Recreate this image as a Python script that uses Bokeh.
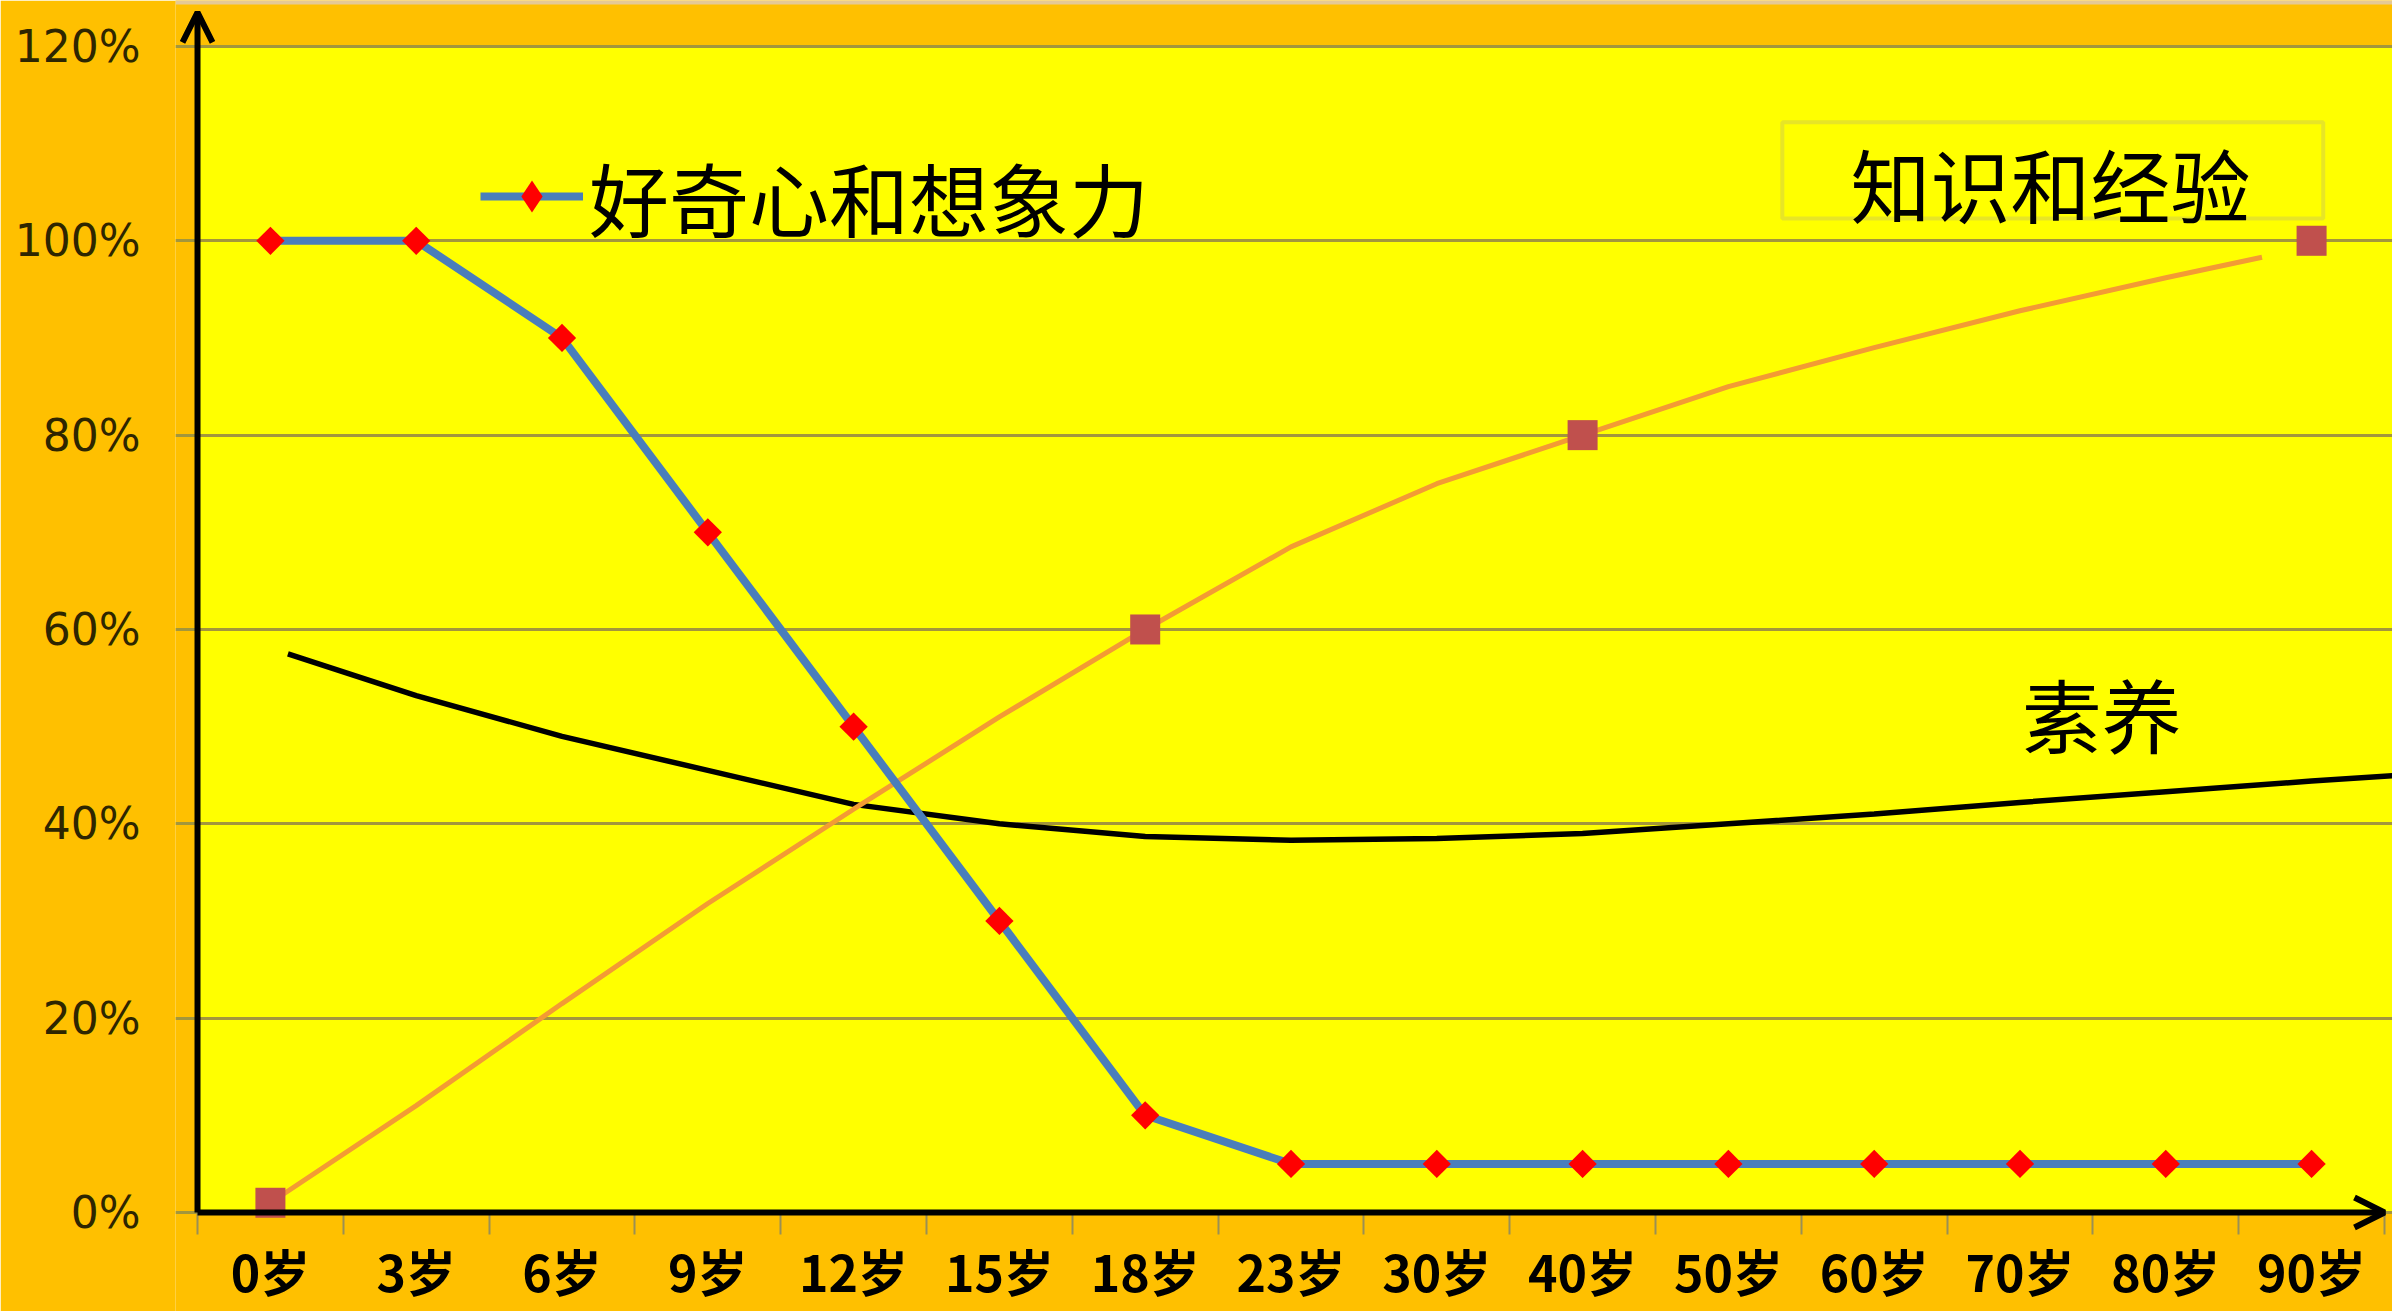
from math import pi
from bokeh.plotting import figure
from bokeh.models import (Range1d, FixedTicker, BoxAnnotation, Arrow, OpenHead,
                          Label, Legend, LegendItem)
from bokeh.embed import file_html
from bokeh.resources import INLINE

# ---------------- data ----------------
ages = ["0岁", "3岁", "6岁", "9岁", "12岁", "15岁", "18岁", "23岁", "30岁",
        "40岁", "50岁", "60岁", "70岁", "80岁", "90岁"]
age_pos = list(range(len(ages)))

# 好奇心和想象力 (%)
curiosity = [100, 100, 90, 70, 50, 30, 10, 5, 5, 5, 5, 5, 5, 5, 5]

# 知识和经验 : smooth trend line (%) and its marked points (%)
knowledge_x = [0, 1, 2, 3, 4, 5, 6, 7, 8, 9, 10, 11, 12, 13, 13.66]
knowledge_line = [1, 11, 21.5, 31.8, 41.5, 51, 60, 68.5, 75, 80, 85, 89, 92.8, 96.2, 98.3]
knowledge_mark_x = [0, 6, 9, 14]
knowledge_mark = [1, 60, 80, 100]

# 素养 (%)
literacy_x = [0.12, 1, 2, 3, 4, 5, 6, 7, 8, 9, 10, 11, 12, 13, 14, 14.6]
literacy = [57.5, 53.2, 49, 45.5, 42, 40, 38.7, 38.3, 38.5, 39, 40, 41, 42.2, 43.3, 44.4, 45]

y_ticks = [0, 20, 40, 60, 80, 100, 120]
y_tick_labels = ["0%", "20%", "40%", "60%", "80%", "100%", "120%"]

legend_label = "好奇心和想象力"
knowledge_label = "知识和经验"
literacy_label = "素养"

# ---------------- figure ----------------
ORANGE = "#FFC000"
YELLOW = "#FFFF00"
GRID = "#A3963C"
CJK = "Noto Sans CJK SC"

p = figure(width=2392, height=1311, output_backend="svg", toolbar_location=None,
           x_range=Range1d(-0.651, 14.555), y_range=Range1d(-10.19, 124.73),
           min_border_left=175, min_border_right=0, min_border_top=0,
           min_border_bottom=0)
p.background_fill_color = ORANGE
p.border_fill_color = ORANGE
p.outline_line_color = None

plot_area = BoxAnnotation(left=-0.5, right=14.555, bottom=0, top=120,
                          fill_color=YELLOW, fill_alpha=1, line_color=None,
                          level="image")
p.add_layout(plot_area)
top_strip = BoxAnnotation(bottom=124.32, fill_color="#E5C995", fill_alpha=1,
                          line_color=None, level="image")
p.add_layout(top_strip)

# grid (its left overhang doubles as the small y ticks)
p.xgrid.visible = False
p.ygrid.ticker = FixedTicker(ticks=y_ticks)
p.ygrid.grid_line_color = GRID
p.ygrid.grid_line_width = 3

# y axis (line drawn as an arrow)
p.yaxis.ticker = FixedTicker(ticks=y_ticks)
p.yaxis.major_label_overrides = dict(zip(y_ticks, y_tick_labels))
p.yaxis.axis_line_color = None
p.yaxis.major_tick_in = 0
p.yaxis.major_tick_out = 0
p.yaxis.major_tick_line_color = None
p.yaxis.minor_tick_line_color = None
p.yaxis.major_label_standoff = 35
p.yaxis.major_label_text_font = "DejaVu Sans"
p.yaxis.major_label_text_font_size = "44px"
p.yaxis.major_label_text_color = "#2E2600"

# x axis fixed at 0%
p.xaxis.fixed_location = 0
p.xaxis.ticker = FixedTicker(ticks=age_pos, minor_ticks=[i - 0.5 for i in range(len(ages) + 1)])
p.xaxis.major_label_overrides = dict(zip(age_pos, ages))
p.xaxis.axis_line_color = None
p.xaxis.major_tick_line_color = None
p.xaxis.major_tick_in = 0
p.xaxis.major_tick_out = 0
p.xaxis.minor_tick_in = 0
p.xaxis.minor_tick_out = 22
p.xaxis.minor_tick_line_color = "#9A8F55"
p.xaxis.minor_tick_line_width = 2
p.xaxis.major_label_standoff = 0
p.xaxis.major_label_text_font = CJK
p.xaxis.major_label_text_font_style = "bold"
p.xaxis.major_label_text_font_size = "50px"
p.xaxis.major_label_text_color = "black"

# axis lines with arrow heads
p.add_layout(Arrow(end=OpenHead(size=30, line_width=6, line_color="black"),
                   x_start=-0.5, y_start=0, x_end=-0.5, y_end=123.5,
                   line_width=6, line_color="black"))
p.add_layout(Arrow(end=OpenHead(size=30, line_width=6, line_color="black"),
                   x_start=-0.5, y_start=0, x_end=14.5, y_end=0,
                   line_width=6, line_color="black"))

# series
p.line(literacy_x, literacy, line_color="black", line_width=5.5)
p.line(knowledge_x, knowledge_line, line_color="#F39B34", line_width=5)
p.scatter(knowledge_mark_x, knowledge_mark, marker="square", size=30,
          fill_color="#C0504D", line_color=None)
blue = p.line(age_pos, curiosity, line_color="#4A7EBB", line_width=8)
# diamond (used for the legend swatch), fully covered by the rotated squares
blue_d = p.scatter(age_pos, curiosity, marker="diamond", size=27,
                   fill_color="#FF0000", line_color=None)
p.scatter(age_pos, curiosity, marker="square", angle=pi / 4, size=20,
          fill_color="#FF0000", line_color=None)

legend = Legend(items=[LegendItem(label=legend_label, renderers=[blue, blue_d])],
                location=(305, 1057), padding=0, margin=0, spacing=0,
                glyph_width=103, glyph_height=80, label_height=60,
                label_standoff=6, label_text_font=CJK,
                label_text_font_size="80px", label_text_color="black",
                background_fill_alpha=0, border_line_color=None)
p.add_layout(legend)

# 知识和经验 box + text
p.add_layout(BoxAnnotation(left=10.37, right=14.08, bottom=102.3, top=112.2,
                           fill_alpha=0, line_color="#B0A880", line_width=4))
p.add_layout(Label(x=12.21, y=106.0, text=knowledge_label, text_align="center",
                   text_baseline="middle", text_font=CJK,
                   text_font_size="80px", text_color="black"))

# 素养 text
p.add_layout(Label(x=12.56, y=51.5, text=literacy_label, text_align="center",
                   text_baseline="middle", text_font=CJK,
                   text_font_size="80px", text_color="black"))

open("out.html", "w").write(file_html(p, INLINE))
